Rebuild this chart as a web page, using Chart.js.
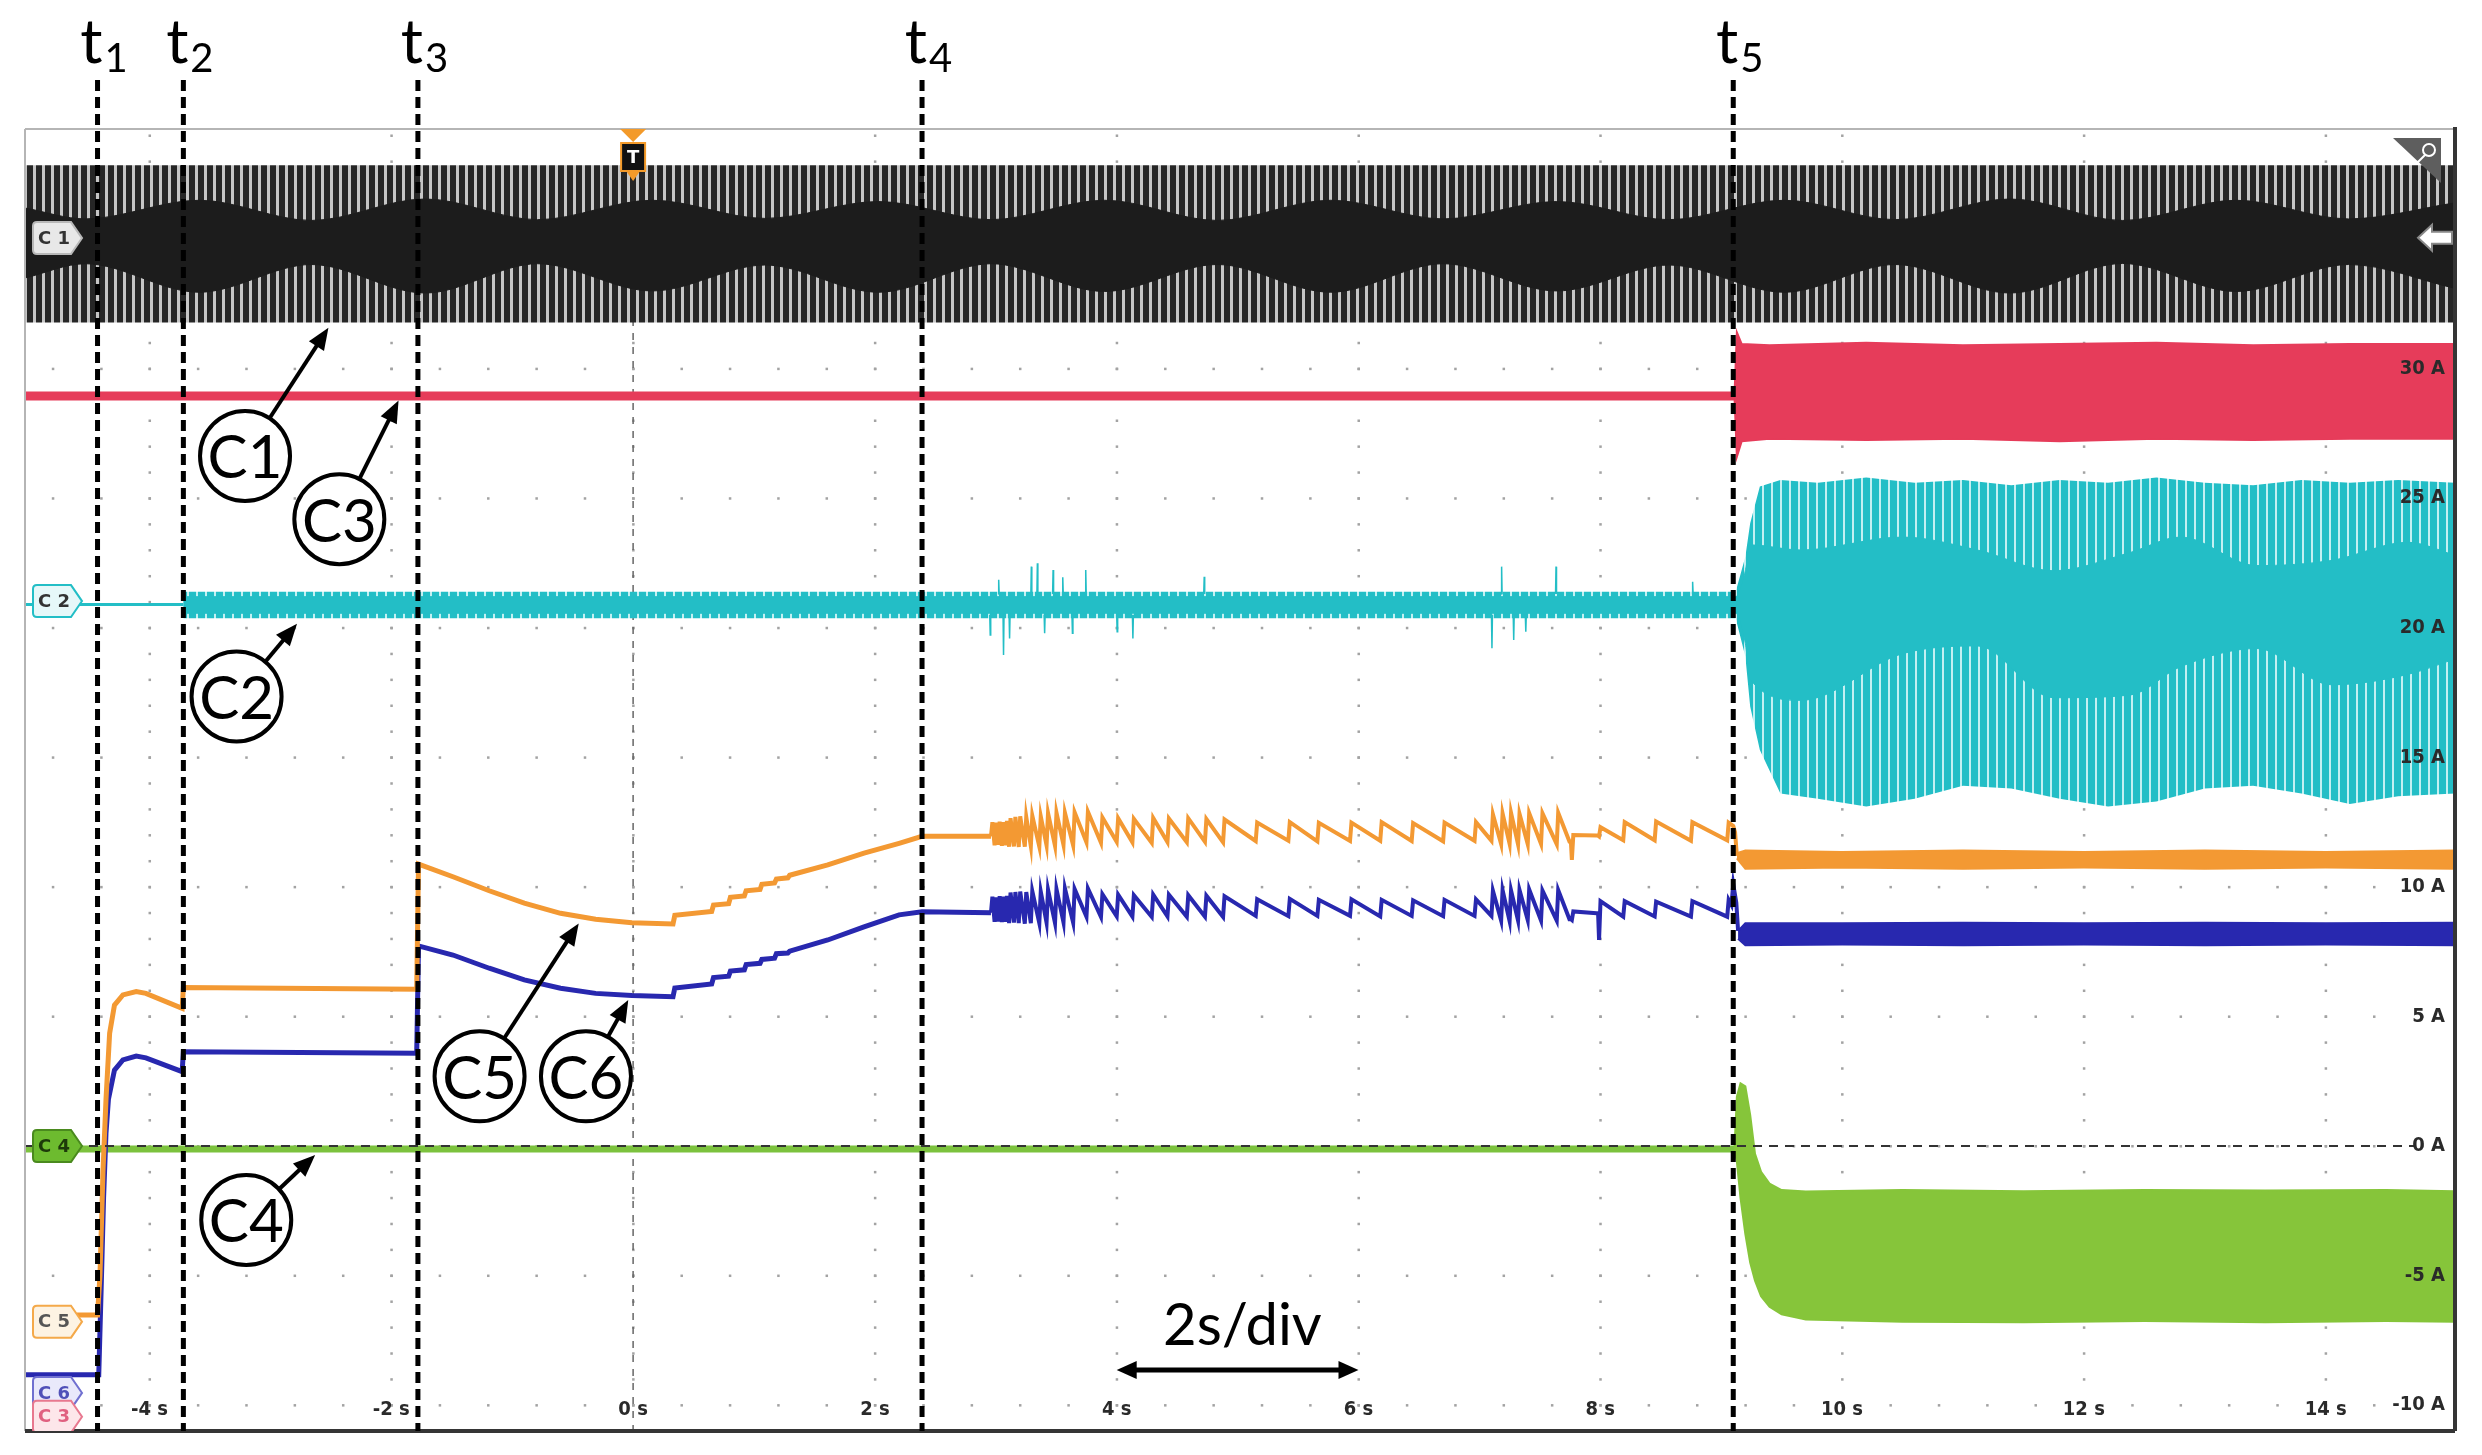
<!DOCTYPE html>
<html>
<head>
<meta charset="utf-8">
<script src="https://cdn.jsdelivr.net/npm/chart.js@4.4.1/dist/chart.umd.min.js"></script>
<style>
  html, body { margin: 0; padding: 0; background: #fff; }
  #wrap { width: 2482px; height: 1455px; }
</style>
</head>
<body>
<div id="wrap"><canvas id="scope" width="2482" height="1455"></canvas></div>
<script>
const timeTicks = [-4, -2, 0, 2, 4, 6, 8, 10, 12, 14];
const ampTicks = [30, 25, 20, 15, 10, 5, 0, -5, -10];
const eventTimes = [-4.43, -3.72, -1.78, 2.39, 9.10];
const eventLabels = ['1', '2', '3', '4', '5'];

// C1 (tension de red, banda densa)
const c1BandT = [-5.03, 15.07];
const c1BandTop = [37.85, 37.85];
const c1BandBot = [31.78, 31.78];
const c1CoreT = [-5.03, -4.53, -3.59, -2.66, -1.72, -0.79, 0.16, 1.09, 2.03, 2.96, 3.90, 4.83, 5.77, 6.70, 7.64, 8.57, 9.52, 10.44, 11.39, 12.32, 13.26, 14.19, 15.07];
const c1CoreTop = [36.2, 35.78, 36.5, 35.72, 36.55, 35.75, 36.5, 35.8, 36.45, 35.75, 36.5, 35.72, 36.5, 35.78, 36.45, 35.75, 36.5, 35.75, 36.55, 35.72, 36.5, 35.78, 36.4];
const c1CoreBot = [33.5, 34.05, 32.95, 34.02, 32.92, 34.05, 33.0, 34.0, 32.95, 34.05, 32.98, 34.02, 32.95, 34.05, 33.0, 34.0, 32.95, 34.02, 32.92, 34.06, 32.98, 34.02, 33.1];

// C3 (rojo)
const c3LineT = [-5.03, 9.11];
const c3LineA = [28.95, 28.95];
const c3BandT = [9.11, 9.13, 9.17, 9.4, 10.2, 11.0, 11.8, 12.6, 13.4, 14.2, 15.07];
const c3BandTop = [28.95, 31.4, 30.95, 30.9, 31.0, 30.9, 30.95, 31.0, 30.9, 30.95, 30.95];
const c3BandBot = [28.95, 26.6, 27.2, 27.3, 27.25, 27.3, 27.2, 27.3, 27.25, 27.3, 27.3];

// C2 (cian)
const c2LineT = [-5.03, -3.72];
const c2LineA = [20.9, 20.9];
const c2BandT = [-3.72, 9.12, 9.20, 9.24, 9.32, 9.49, 9.8, 10.2, 10.6, 11.0, 11.4, 11.8, 12.2, 12.6, 13.0, 13.4, 13.8, 14.2, 14.6, 15.07];
const c2OuterTop = [21.39, 21.39, 22.74, 24.03, 25.45, 25.7, 25.6, 25.8, 25.6, 25.7, 25.5, 25.7, 25.6, 25.8, 25.6, 25.5, 25.7, 25.6, 25.7, 25.6];
const c2OuterBot = [20.37, 20.37, 18.89, 16.96, 15.28, 13.6, 13.4, 13.1, 13.4, 13.9, 13.8, 13.4, 13.1, 13.3, 13.8, 13.9, 13.6, 13.2, 13.5, 13.6];
const c2CoreT = [-3.72, 9.12, 9.20, 9.24, 9.66, 10.50, 11.12, 11.75, 12.38, 12.80, 13.43, 14.05, 14.68, 15.07];
const c2CoreTop = [21.2, 21.2, 22.2, 23.2, 23.0, 23.5, 23.0, 22.2, 22.9, 23.5, 22.4, 22.6, 23.3, 22.8];
const c2CoreBot = [20.56, 20.56, 19.4, 18.0, 17.2, 19.0, 19.3, 17.3, 17.4, 18.5, 19.2, 17.8, 18.2, 18.8];
const c2SpikeT = [2.95, 3.02, 3.06, 3.11, 3.29, 3.34, 3.40, 3.47, 3.55, 3.63, 3.74, 4.00, 4.13, 4.72, 7.10, 7.18, 7.28, 7.38, 7.63, 8.76];
const c2SpikeA = [19.72, 21.85, 18.95, 19.59, 22.36, 22.49, 19.79, 22.23, 21.95, 19.79, 22.23, 19.85, 19.59, 21.97, 19.21, 22.36, 19.53, 19.85, 22.36, 21.78];

// C5 (naranja) y C6 (azul) hasta el inicio de la oscilacion
const c5PreT = [-4.60, -4.43, -4.41, -4.385, -4.36, -4.33, -4.29, -4.22, -4.11, -4.03, -3.73, -3.72, -1.79, -1.775, -1.49, -1.19, -0.90, -0.60, -0.31, -0.01, 0.33, 0.345, 0.65, 0.665, 0.79, 0.805, 0.92, 0.935, 1.05, 1.065, 1.17, 1.185, 1.28, 1.295, 1.61, 1.91, 2.20, 2.39, 2.96];
const c5PreA = [-6.52, -6.52, -5.0, -1.0, 1.8, 4.35, 5.44, 5.83, 5.96, 5.89, 5.31, 6.12, 6.05, 10.88, 10.39, 9.85, 9.37, 8.98, 8.75, 8.62, 8.57, 8.9, 9.05, 9.3, 9.35, 9.6, 9.65, 9.85, 9.9, 10.1, 10.15, 10.3, 10.35, 10.45, 10.85, 11.3, 11.68, 11.95, 11.95];
const c6PreT = [-5.03, -4.42, -4.40, -4.38, -4.36, -4.34, -4.29, -4.22, -4.11, -4.03, -3.73, -3.72, -1.79, -1.775, -1.49, -1.19, -0.90, -0.60, -0.31, -0.01, 0.33, 0.345, 0.65, 0.665, 0.79, 0.805, 0.92, 0.935, 1.05, 1.065, 1.17, 1.185, 1.28, 1.295, 1.61, 1.91, 2.20, 2.39, 2.96];
const c6PreA = [-8.83, -8.83, -5.5, -2.0, 0.5, 1.8, 2.93, 3.32, 3.47, 3.40, 2.87, 3.64, 3.58, 7.72, 7.37, 6.86, 6.41, 6.09, 5.89, 5.81, 5.76, 6.1, 6.25, 6.5, 6.55, 6.75, 6.8, 7.0, 7.05, 7.2, 7.25, 7.42, 7.45, 7.52, 7.95, 8.46, 8.92, 9.04, 9.0];

// dientes de sierra entre t4 y t5 (instante de subida, valle y pico)
const zigT = [2.96, 2.99, 3.02, 3.05, 3.08, 3.11, 3.15, 3.19, 3.24, 3.29,
              3.36, 3.42, 3.49, 3.56, 3.64, 3.75, 3.87, 4.00, 4.13, 4.29,
              4.42, 4.58, 4.73, 4.88, 5.15, 5.42, 5.66, 5.93, 6.18, 6.44,
              6.70, 6.96, 7.10, 7.18, 7.25, 7.32, 7.40, 7.51, 7.64, 7.745,
              7.765, 7.97, 7.99, 8.19, 8.45, 8.75, 9.05];
const c5Trough = [11.95, 11.6, 11.62, 11.58, 11.6, 11.55, 11.56, 11.54, 11.55, 11.57,
                  11.55, 11.6, 11.58, 11.62, 11.6, 11.72, 11.7, 11.74, 11.72, 11.7,
                  11.73, 11.72, 11.74, 11.72, 11.77, 11.78, 11.76, 11.77, 11.78, 11.77,
                  11.76, 11.78, 11.78, 11.65, 11.66, 11.64, 11.65, 11.66, 11.65, 11.75,
                  11.04, 11.98, 11.95, 11.8, 11.8, 11.78, 11.8];
const c5Peak = [12.5, 12.48, 12.52, 12.5, 12.55, 12.65, 12.7, 12.72, 12.7, 12.75,
                12.72, 12.85, 12.87, 12.86, 12.88, 12.9, 12.68, 12.65, 12.63, 12.66,
                12.64, 12.65, 12.62, 12.6, 12.48, 12.5, 12.47, 12.48, 12.5, 12.46,
                12.48, 12.5, 12.8, 12.84, 12.86, 12.82, 12.85, 12.84, 12.86, 11.75,
                12.0, 11.98, 12.3, 12.5, 12.52, 12.5, 12.48];
const c6Trough = [9.0, 8.65, 8.66, 8.64, 8.65, 8.6, 8.62, 8.6, 8.58, 8.6,
                  8.6, 8.62, 8.6, 8.63, 8.62, 8.85, 8.84, 8.86, 8.85, 8.84,
                  8.86, 8.85, 8.85, 8.84, 8.88, 8.87, 8.88, 8.88, 8.86, 8.88,
                  8.87, 8.88, 8.88, 8.7, 8.68, 8.7, 8.72, 8.7, 8.7, 8.75,
                  8.72, 8.98, 7.95, 8.85, 8.86, 8.85, 8.85];
const c6Peak = [9.62, 9.6, 9.64, 9.62, 9.65, 9.78, 9.8, 9.82, 9.8, 9.84,
                9.82, 9.9, 9.92, 9.94, 9.92, 9.94, 9.72, 9.7, 9.68, 9.7,
                9.7, 9.68, 9.66, 9.64, 9.52, 9.54, 9.5, 9.52, 9.5, 9.48,
                9.5, 9.52, 9.85, 9.88, 9.86, 9.88, 9.9, 9.86, 9.88, 8.75,
                9.05, 8.98, 9.45, 9.45, 9.43, 9.45, 9.5];
const c5EndT = [9.10, 9.115, 9.13];
const c5EndA = [12.35, 12.1, 11.2];
const c6EndT = [9.085, 9.10, 9.125, 9.14];
const c6EndA = [9.3, 10.1, 9.4, 8.3];

// despues de t5: bandas de ruido
const c5BandT = [9.13, 9.2, 10, 11, 12, 13, 14, 15.07];
const c5BandTop = [11.3, 11.4, 11.35, 11.4, 11.35, 11.4, 11.35, 11.4];
const c5BandBot = [11.1, 10.7, 10.75, 10.7, 10.75, 10.7, 10.75, 10.7];
const c6BandT = [9.14, 9.2, 10, 11, 12, 13, 14, 15.07];
const c6BandTop = [8.3, 8.6, 8.6, 8.62, 8.6, 8.62, 8.6, 8.62];
const c6BandBot = [8.0, 7.75, 7.78, 7.75, 7.78, 7.75, 7.78, 7.75];

// C4 (verde)
const c4LineT = [-5.03, 9.11];
const c4LineA = [-0.12, -0.12];
const c4BandT = [9.11, 9.13, 9.16, 9.2, 9.24, 9.28, 9.33, 9.40, 9.5, 9.7, 10.5, 11.5, 12.5, 13.5, 14.5, 15.07];
const c4BandTop = [-0.12, 1.9, 2.42, 2.3, 1.2, -0.3, -1.0, -1.45, -1.7, -1.76, -1.7, -1.75, -1.7, -1.72, -1.7, -1.75];
const c4BandBot = [-0.12, -0.6, -2.0, -3.4, -4.5, -5.2, -5.8, -6.2, -6.5, -6.7, -6.78, -6.8, -6.75, -6.8, -6.75, -6.78];

// etiquetas con circulo y flecha
const calloutNames = ['C1', 'C3', 'C2', 'C5', 'C6', 'C4'];
const calloutT = [-3.21, -2.43, -3.28, -1.27, -0.39, -3.20];
const calloutA = [26.63, 24.19, 17.35, 2.69, 2.69, -2.86];
const calloutTipT = [-2.52, -1.94, -2.78, -0.45, -0.04, -2.63];
const calloutTipA = [31.58, 28.77, 20.16, 8.59, 5.63, -0.35];

// marcas de canal a la izquierda
const tagNames = ['C 1', 'C 2', 'C 4', 'C 5', 'C 6', 'C 3'];
const tagLevels = [35.04, 21.03, 0, -6.78, -9.53, -10.45];
const tagFill = ['#e8e8e8', '#e6f8f9', '#6dbb2f', '#fdf3e3', '#e9e9fb', '#fde6ea'];
const tagStroke = ['#b8b8b8', '#23bec6', '#4a8a1e', '#f4a94a', '#7070d0', '#e8788f'];
const tagText = ['#333', '#333', '#1d3a0a', '#555', '#5050b8', '#e06080'];

const RED = '#e63c5a', CYAN = '#23bec6', ORANGE = '#f39933', BLUE = '#2828af', GREEN = '#86c53a';

const pts = (xs, ys) => xs.map((x, i) => ({ x: x, y: ys[i] }));

function teeth(trough, peak) {
    const out = [];
    zigT.forEach((t, i) => {
        out.push({ x: t, y: trough[i] }, { x: t + 0.012, y: peak[i] });
    });
    return out;
}

const spikeData = [];
c2SpikeT.forEach((t, i) => {
    const base = c2SpikeA[i] > 20.9 ? 21.3 : 20.5;
    spikeData.push({ x: t, y: base }, { x: t + 0.004, y: c2SpikeA[i] }, { x: t + 0.008, y: base }, { x: t + 0.009, y: null });
});

const canvas = document.getElementById('scope');
const ctx0 = canvas.getContext('2d');

// relleno rayado para las envolventes muestreadas
function stripes(dark, light, darkW, period) {
    const c = document.createElement('canvas');
    c.width = period; c.height = 4;
    const g = c.getContext('2d');
    g.fillStyle = light; g.fillRect(0, 0, period, 4);
    g.fillStyle = dark; g.fillRect(0, 0, darkW, 4);
    return ctx0.createPattern(c, 'repeat');
}
const c1Pattern = stripes('#262626', '#c6c6c6', 6, 9);
const c2Pattern = stripes(CYAN, '#c4f0f2', 7, 9);

function line(data, color, width, extra) {
    return Object.assign({
        data: data, borderColor: color, backgroundColor: color, borderWidth: width,
        pointRadius: 0, fill: false, tension: 0, order: 3
    }, extra || {});
}
function edge(data, color, extra) {
    return line(data, color, 0, extra);
}

const datasets = [
    edge(pts(c1BandT, c1BandTop), '#444', { fill: '+1', backgroundColor: c1Pattern, order: 10 }),
    edge(pts(c1BandT, c1BandBot), '#444', { order: 10 }),
    line(pts(c1CoreT, c1CoreTop), '#1c1c1c', 1, { fill: '+1', cubicInterpolationMode: 'monotone', order: 6 }),
    line(pts(c1CoreT, c1CoreBot), '#1c1c1c', 1, { cubicInterpolationMode: 'monotone', order: 6 }),

    line(pts(c3LineT, c3LineA), RED, 9),
    line(pts(c3BandT, c3BandTop), RED, 2, { fill: '+1', order: 4 }),
    line(pts(c3BandT, c3BandBot), RED, 2, { order: 4 }),

    line(pts(c2LineT, c2LineA), CYAN, 3),
    edge(pts(c2BandT, c2OuterTop), CYAN, { fill: '+1', backgroundColor: c2Pattern, order: 10 }),
    edge(pts(c2BandT, c2OuterBot), CYAN, { order: 10 }),
    line(pts(c2CoreT, c2CoreTop), CYAN, 1, { fill: '+1', cubicInterpolationMode: 'monotone', order: 6 }),
    line(pts(c2CoreT, c2CoreBot), CYAN, 1, { cubicInterpolationMode: 'monotone', order: 6 }),
    line(spikeData, CYAN, 1.5, { spanGaps: false, order: 7 }),

    line(pts(c5PreT, c5PreA), ORANGE, 5),
    line(teeth(c5Trough, c5Peak).concat(pts(c5EndT, c5EndA)), ORANGE, 4),
    line(pts(c5BandT, c5BandTop), ORANGE, 2, { fill: '+1', order: 4 }),
    line(pts(c5BandT, c5BandBot), ORANGE, 2, { order: 4 }),

    line(pts(c6PreT, c6PreA), BLUE, 5),
    line(teeth(c6Trough, c6Peak).concat(pts(c6EndT, c6EndA)), BLUE, 4),
    line(pts(c6BandT, c6BandTop), BLUE, 2, { fill: '+1', order: 4 }),
    line(pts(c6BandT, c6BandBot), BLUE, 2, { order: 4 }),

    line(pts(c4LineT, c4LineA), '#7cc23e', 7),
    line(pts(c4BandT, c4BandTop), GREEN, 2, { fill: '+1', order: 4 }),
    line(pts(c4BandT, c4BandBot), GREEN, 2, { order: 4 })
];

const LABEL_FONT = '"Liberation Sans Narrow", "DejaVu Sans Condensed", "Liberation Sans", sans-serif';

function arrowHead(ctx, x1, y1, x2, y2, len, half) {
    const ang = Math.atan2(y2 - y1, x2 - x1);
    ctx.beginPath();
    ctx.moveTo(x2, y2);
    ctx.lineTo(x2 - len * Math.cos(ang) + half * Math.sin(ang), y2 - len * Math.sin(ang) - half * Math.cos(ang));
    ctx.lineTo(x2 - len * Math.cos(ang) - half * Math.sin(ang), y2 - len * Math.sin(ang) + half * Math.cos(ang));
    ctx.closePath();
    ctx.fill();
}

const scopeDecor = {
    id: 'scopeDecor',
    beforeDatasetsDraw(chart) {
        const { ctx, chartArea: a, scales: { x, y } } = chart;
        ctx.save();
        ctx.fillStyle = '#a3a3a3';
        for (let k = -12; k <= 37; k++) {
            const px = x.getPixelForValue(k * 0.4);
            for (let v = -10; v <= 35; v += 5) ctx.fillRect(px - 1, y.getPixelForValue(v) - 1, 2.5, 2.5);
        }
        timeTicks.forEach(t => {
            const px = x.getPixelForValue(t);
            for (let v = -10; v <= 39; v++) ctx.fillRect(px - 1, y.getPixelForValue(v) - 1, 2.5, 2.5);
        });
        const tx = x.getPixelForValue(0);
        ctx.strokeStyle = '#666';
        ctx.lineWidth = 1.5;
        ctx.setLineDash([7, 7]);
        ctx.beginPath();
        ctx.moveTo(tx, a.top + 50);
        ctx.lineTo(tx, a.bottom);
        ctx.stroke();
        ctx.restore();
    },
    afterDatasetsDraw(chart) {
        const { ctx, chartArea: a, scales: { x, y } } = chart;
        ctx.save();
        // referencia 0 A
        ctx.strokeStyle = '#333';
        ctx.lineWidth = 2;
        ctx.setLineDash([9, 7]);
        ctx.beginPath();
        ctx.moveTo(a.left, y.getPixelForValue(0));
        ctx.lineTo(a.right - 40, y.getPixelForValue(0));
        ctx.stroke();
        ctx.setLineDash([]);

        // circulos con flechas
        ctx.strokeStyle = '#000';
        ctx.fillStyle = '#000';
        calloutNames.forEach((name, i) => {
            const cx = x.getPixelForValue(calloutT[i]), cy = y.getPixelForValue(calloutA[i]);
            const tx = x.getPixelForValue(calloutTipT[i]), ty = y.getPixelForValue(calloutTipA[i]);
            const r = 45;
            const d = Math.hypot(tx - cx, ty - cy);
            const ux = (tx - cx) / d, uy = (ty - cy) / d;
            ctx.fillStyle = '#fff';
            ctx.beginPath();
            ctx.arc(cx, cy, r, 0, Math.PI * 2);
            ctx.fill();
            ctx.lineWidth = 4;
            ctx.stroke();
            ctx.fillStyle = '#000';
            ctx.beginPath();
            ctx.moveTo(cx + ux * r, cy + uy * r);
            ctx.lineTo(tx - ux * 16, ty - uy * 16);
            ctx.stroke();
            arrowHead(ctx, cx, cy, tx, ty, 22, 9);
            ctx.font = '60px Lato, "Open Sans", sans-serif';
            ctx.textAlign = 'center';
            ctx.textBaseline = 'middle';
            ctx.fillText(name, cx, cy + 3);
        });

        // escala de tiempo
        const x1 = x.getPixelForValue(4), x2 = x.getPixelForValue(6), ya = y.getPixelForValue(-8.65);
        ctx.lineWidth = 5;
        ctx.beginPath();
        ctx.moveTo(x1 + 10, ya);
        ctx.lineTo(x2 - 10, ya);
        ctx.stroke();
        arrowHead(ctx, x2, ya, x1, ya, 20, 9);
        arrowHead(ctx, x1, ya, x2, ya, 20, 9);
        ctx.font = '58px Lato, "Open Sans", sans-serif';
        ctx.textAlign = 'center';
        ctx.textBaseline = 'alphabetic';
        ctx.fillText('2s/div', x.getPixelForValue(5.04), y.getPixelForValue(-7.68));
        ctx.restore();
    },
    afterDraw(chart) {
        const { ctx, chartArea: a, scales: { x, y } } = chart;
        ctx.save();
        // marco
        ctx.lineWidth = 2;
        ctx.strokeStyle = '#b5b5b5';
        ctx.beginPath();
        ctx.moveTo(a.left, a.top); ctx.lineTo(a.right, a.top);
        ctx.moveTo(a.left, a.top); ctx.lineTo(a.left, a.bottom);
        ctx.stroke();
        ctx.lineWidth = 4;
        ctx.strokeStyle = '#353535';
        ctx.beginPath();
        ctx.moveTo(a.left, a.bottom); ctx.lineTo(a.right, a.bottom);
        ctx.moveTo(a.right, a.top - 2); ctx.lineTo(a.right, a.bottom);
        ctx.stroke();

        // etiquetas de ejes dentro del grafico
        ctx.fillStyle = '#2a2a2a';
        ctx.font = 'bold 20px ' + LABEL_FONT;
        ctx.textAlign = 'right';
        ctx.textBaseline = 'middle';
        ampTicks.forEach(v => ctx.fillText(v + ' A', a.right - 10, y.getPixelForValue(v)));
        ctx.textAlign = 'center';
        timeTicks.forEach(t => ctx.fillText(t + ' s', x.getPixelForValue(t), y.getPixelForValue(-10.2)));

        // marcas de canal
        ctx.save();
        ctx.beginPath();
        ctx.rect(a.left, a.top, a.right - a.left, a.bottom - a.top);
        ctx.clip();
        tagNames.forEach((name, i) => {
            const yc = y.getPixelForValue(tagLevels[i]);
            const l = a.left + 8, rr = a.left + 57, tip = 11, h = 16;
            ctx.beginPath();
            ctx.moveTo(l + 4, yc - h);
            ctx.lineTo(rr - tip, yc - h);
            ctx.lineTo(rr, yc);
            ctx.lineTo(rr - tip, yc + h);
            ctx.lineTo(l + 4, yc + h);
            ctx.quadraticCurveTo(l, yc + h, l, yc + h - 4);
            ctx.lineTo(l, yc - h + 4);
            ctx.quadraticCurveTo(l, yc - h, l + 4, yc - h);
            ctx.closePath();
            ctx.fillStyle = tagFill[i];
            ctx.fill();
            ctx.lineWidth = 2;
            ctx.strokeStyle = tagStroke[i];
            ctx.stroke();
            ctx.fillStyle = tagText[i];
            ctx.font = '600 18px "DejaVu Sans", sans-serif';
            ctx.textAlign = 'center';
            ctx.textBaseline = 'middle';
            ctx.fillText(name, l + 21, yc + 1);
        });
        ctx.restore();

        // marcador de disparo T
        const tx = x.getPixelForValue(0);
        ctx.fillStyle = '#f39a2a';
        ctx.beginPath();
        ctx.moveTo(tx - 13, a.top); ctx.lineTo(tx + 13, a.top); ctx.lineTo(tx, a.top + 13);
        ctx.closePath(); ctx.fill();
        ctx.beginPath();
        ctx.moveTo(tx - 7, a.top + 42); ctx.lineTo(tx + 7, a.top + 42); ctx.lineTo(tx, a.top + 52);
        ctx.closePath(); ctx.fill();
        ctx.fillStyle = '#111';
        ctx.fillRect(tx - 12, a.top + 14, 24, 28);
        ctx.strokeStyle = '#f39a2a';
        ctx.lineWidth = 2;
        ctx.strokeRect(tx - 12, a.top + 14, 24, 28);
        ctx.fillStyle = '#fff';
        ctx.font = 'bold 18px "DejaVu Sans", sans-serif';
        ctx.fillText('T', tx, a.top + 29);

        // iconos de la esquina derecha
        ctx.fillStyle = '#5e5e5e';
        ctx.beginPath();
        ctx.moveTo(a.right - 62, a.top + 9); ctx.lineTo(a.right - 14, a.top + 9); ctx.lineTo(a.right - 14, a.top + 54);
        ctx.closePath(); ctx.fill();
        ctx.strokeStyle = '#fff';
        ctx.lineWidth = 2;
        ctx.beginPath();
        ctx.arc(a.right - 26, a.top + 21, 6, 0, Math.PI * 2);
        ctx.moveTo(a.right - 30, a.top + 26); ctx.lineTo(a.right - 38, a.top + 34);
        ctx.stroke();
        const ay = y.getPixelForValue(35.05);
        ctx.fillStyle = '#fff';
        ctx.strokeStyle = '#888';
        ctx.beginPath();
        ctx.moveTo(a.right - 37, ay);
        ctx.lineTo(a.right - 23, ay - 13);
        ctx.lineTo(a.right - 23, ay - 6);
        ctx.lineTo(a.right - 3, ay - 6);
        ctx.lineTo(a.right - 3, ay + 6);
        ctx.lineTo(a.right - 23, ay + 6);
        ctx.lineTo(a.right - 23, ay + 13);
        ctx.closePath();
        ctx.fill(); ctx.stroke();

        // lineas de eventos t1..t5
        ctx.strokeStyle = '#000';
        ctx.lineWidth = 5;
        ctx.setLineDash([11, 6]);
        eventTimes.forEach((t, i) => {
            const px = x.getPixelForValue(t);
            ctx.beginPath();
            ctx.moveTo(px, a.top - 49);
            ctx.lineTo(px, a.bottom);
            ctx.stroke();
            ctx.fillStyle = '#000';
            ctx.textBaseline = 'alphabetic';
            ctx.font = '62px Lato, "Open Sans", sans-serif';
            ctx.textAlign = 'right';
            ctx.fillText('t', px + 5, a.top - 66);
            ctx.font = '40px Lato, "Open Sans", sans-serif';
            ctx.textAlign = 'left';
            ctx.fillText(eventLabels[i], px + 7, a.top - 57);
        });
        ctx.restore();
    }
};

new Chart(canvas, {
    type: 'line',
    data: { datasets: datasets },
    options: {
        responsive: false,
        animation: false,
        devicePixelRatio: 1,
        layout: { padding: { left: 25, right: 27, top: 129, bottom: 24 } },
        scales: {
            x: { type: 'linear', min: -5.03, max: 15.07, display: false },
            y: { type: 'linear', min: -11, max: 39.25, display: false }
        },
        plugins: {
            legend: { display: false },
            tooltip: { enabled: false }
        }
    },
    plugins: [scopeDecor]
});
</script>
</body>
</html>
